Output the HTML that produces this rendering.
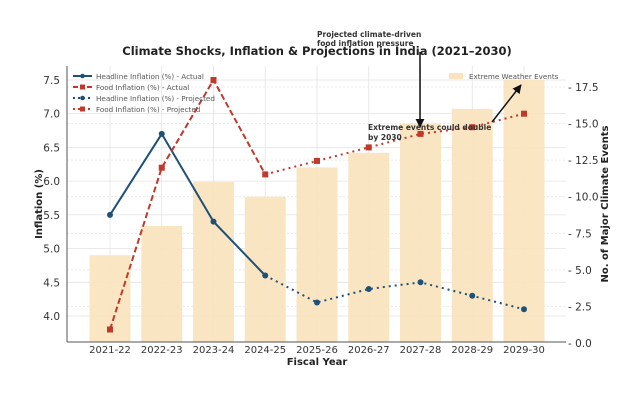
<!DOCTYPE html>
<html><head><meta charset="utf-8"><style>
body{margin:0;background:#fff}
text{font-family:"DejaVu Sans","Liberation Sans",sans-serif}
</style></head><body>
<svg width="638" height="400" viewBox="0 0 638 400" xmlns="http://www.w3.org/2000/svg">
<defs><marker id="ah" viewBox="0 0 10 10" refX="9" refY="5" markerWidth="6" markerHeight="6" orient="auto"><path d="M0,0L10,5L0,10z" fill="#111"/></marker></defs>
<g stroke="#e3e3e3" stroke-width="0.8">
<line x1="67" x2="566" y1="316" y2="316"/><line x1="67" x2="566" y1="282.3" y2="282.3"/><line x1="67" x2="566" y1="248.6" y2="248.6"/><line x1="67" x2="566" y1="214.9" y2="214.9"/><line x1="67" x2="566" y1="181.1" y2="181.1"/><line x1="67" x2="566" y1="147.4" y2="147.4"/><line x1="67" x2="566" y1="113.7" y2="113.7"/><line x1="67" x2="566" y1="80" y2="80"/>
<line x1="110" x2="110" y1="66" y2="342"/><line x1="161.75" x2="161.75" y1="66" y2="342"/><line x1="213.5" x2="213.5" y1="66" y2="342"/><line x1="265.25" x2="265.25" y1="66" y2="342"/><line x1="317" x2="317" y1="66" y2="342"/><line x1="368.75" x2="368.75" y1="66" y2="342"/><line x1="420.5" x2="420.5" y1="66" y2="342"/><line x1="472.25" x2="472.25" y1="66" y2="342"/><line x1="524" x2="524" y1="66" y2="342"/>
</g>
<g stroke="#e6e6e6" stroke-width="0.8" stroke-dasharray="2,2">
<line x1="67" x2="566" y1="306.4" y2="306.4"/><line x1="67" x2="566" y1="269.9" y2="269.9"/><line x1="67" x2="566" y1="233.3" y2="233.3"/><line x1="67" x2="566" y1="196.7" y2="196.7"/><line x1="67" x2="566" y1="160.1" y2="160.1"/><line x1="67" x2="566" y1="123.5" y2="123.5"/><line x1="67" x2="566" y1="87" y2="87"/>
</g>
<g fill="#fae3bd" opacity="0.9">
<rect x="89.5" y="255.2" width="41" height="86.8"/><rect x="141.25" y="226" width="41" height="116"/><rect x="193" y="182" width="41" height="160"/><rect x="244.75" y="196.7" width="41" height="145.3"/><rect x="296.5" y="167.4" width="41" height="174.6"/><rect x="348.25" y="152.8" width="41" height="189.2"/><rect x="400" y="123.5" width="41" height="218.5"/><rect x="451.75" y="108.9" width="41" height="233.1"/><rect x="503.5" y="79.7" width="41" height="262.3"/>
</g>
<polyline points="110,214.9 161.75,133.9 213.5,221.6 265.25,275.5" fill="none" stroke="#1f5078" stroke-width="2"/>
<polyline points="265.25,275.5 317,302.5 368.75,289 420.5,282.3 472.25,295.8 524,309.3" fill="none" stroke="#1f5078" stroke-width="2" stroke-dasharray="2,4"/>
<polyline points="110,329.5 161.75,167.7 213.5,80 265.25,174.4" fill="none" stroke="#c0392b" stroke-width="2" stroke-dasharray="6,3"/>
<polyline points="265.25,174.4 317,160.9 368.75,147.4 420.5,133.9 472.25,127.2 524,113.7" fill="none" stroke="#c0392b" stroke-width="2" stroke-dasharray="2,4"/>
<g fill="#1f5078"><circle cx="110" cy="214.9" r="3"/><circle cx="161.75" cy="133.9" r="3"/><circle cx="213.5" cy="221.6" r="3"/><circle cx="265.25" cy="275.5" r="3"/><circle cx="317" cy="302.5" r="3"/><circle cx="368.75" cy="289" r="3"/><circle cx="420.5" cy="282.3" r="3"/><circle cx="472.25" cy="295.8" r="3"/><circle cx="524" cy="309.3" r="3"/></g>
<g fill="#c0392b"><rect x="107" y="326.5" width="6" height="6"/><rect x="158.75" y="164.7" width="6" height="6"/><rect x="210.5" y="77" width="6" height="6"/><rect x="262.25" y="171.4" width="6" height="6"/><rect x="314" y="157.9" width="6" height="6"/><rect x="365.75" y="144.4" width="6" height="6"/><rect x="417.5" y="130.9" width="6" height="6"/><rect x="469.25" y="124.2" width="6" height="6"/><rect x="521" y="110.7" width="6" height="6"/></g>
<line x1="67" y1="66" x2="67" y2="342" stroke="#555" stroke-width="1"/>
<line x1="67" y1="342" x2="566" y2="342" stroke="#555" stroke-width="1"/>
<g font-size="10.5" fill="#333" text-anchor="end">
<text x="60" y="320">4.0</text><text x="60" y="286.3">4.5</text><text x="60" y="252.6">5.0</text><text x="60" y="218.9">5.5</text><text x="60" y="185.1">6.0</text><text x="60" y="151.4">6.5</text><text x="60" y="117.7">7.0</text><text x="60" y="84">7.5</text>
</g>
<g font-size="10.5" fill="#333">
<text x="568" y="347">- 0.0</text><text x="568" y="310.4">- 2.5</text><text x="568" y="273.9">- 5.0</text><text x="568" y="237.3">- 7.5</text><text x="568" y="200.7">- 10.0</text><text x="568" y="164.1">- 12.5</text><text x="568" y="127.5">- 15.0</text><text x="568" y="91">- 17.5</text>
</g>
<g font-size="10" fill="#333" text-anchor="middle">
<text x="110" y="353">2021-22</text><text x="161.75" y="353">2022-23</text><text x="213.5" y="353">2023-24</text><text x="265.25" y="353">2024-25</text><text x="317" y="353">2025-26</text><text x="368.75" y="353">2026-27</text><text x="420.5" y="353">2027-28</text><text x="472.25" y="353">2028-29</text><text x="524" y="353">2029-30</text>
</g>
<text x="317" y="365" font-size="10" font-weight="bold" text-anchor="middle" fill="#222">Fiscal Year</text>
<text transform="translate(42,204) rotate(-90)" font-size="10" font-weight="bold" text-anchor="middle" fill="#222">Inflation (%)</text>
<text transform="translate(608,204) rotate(-90)" font-size="10" font-weight="bold" text-anchor="middle" fill="#222">No. of Major Climate Events</text>
<text x="317" y="55" font-size="11.5" font-weight="bold" text-anchor="middle" fill="#222">Climate Shocks, Inflation &amp; Projections in India (2021–2030)</text>
<g font-size="7.2" fill="#555">
<line x1="73" y1="76" x2="92" y2="76" stroke="#1f5078" stroke-width="2"/><circle cx="82.5" cy="76" r="2.3" fill="#1f5078"/><text x="96" y="79">Headline Inflation (%) - Actual</text>
<line x1="73" y1="87" x2="92" y2="87" stroke="#c0392b" stroke-width="2" stroke-dasharray="5,2"/><rect x="80" y="84.5" width="5" height="5" fill="#c0392b"/><text x="96" y="90">Food Inflation (%) - Actual</text>
<line x1="73" y1="98" x2="92" y2="98" stroke="#1f5078" stroke-width="2" stroke-dasharray="2,3"/><circle cx="82.5" cy="98" r="2.3" fill="#1f5078"/><text x="96" y="101">Headline Inflation (%) - Projected</text>
<line x1="73" y1="109" x2="92" y2="109" stroke="#c0392b" stroke-width="2" stroke-dasharray="2,3"/><rect x="80" y="106.5" width="5" height="5" fill="#c0392b"/><text x="96" y="112">Food Inflation (%) - Projected</text>
<rect x="449" y="73" width="14" height="6" fill="#fae3bd"/><text x="469" y="79">Extreme Weather Events</text>
</g>
<text x="317" y="37" font-size="7.5" font-weight="bold" fill="#333">Projected climate-driven</text>
<text x="317" y="46" font-size="7.5" font-weight="bold" fill="#333">food inflation pressure</text>
<line x1="420" y1="52" x2="420" y2="127" stroke="#111" stroke-width="1.5" marker-end="url(#ah)"/>
<text x="368" y="130" font-size="7.5" font-weight="bold" fill="#333">Extreme events could double</text>
<text x="368" y="140" font-size="7.5" font-weight="bold" fill="#333">by 2030</text>
<line x1="492" y1="122" x2="521" y2="85" stroke="#111" stroke-width="1.5" marker-end="url(#ah)"/>
</svg>
</body></html>
